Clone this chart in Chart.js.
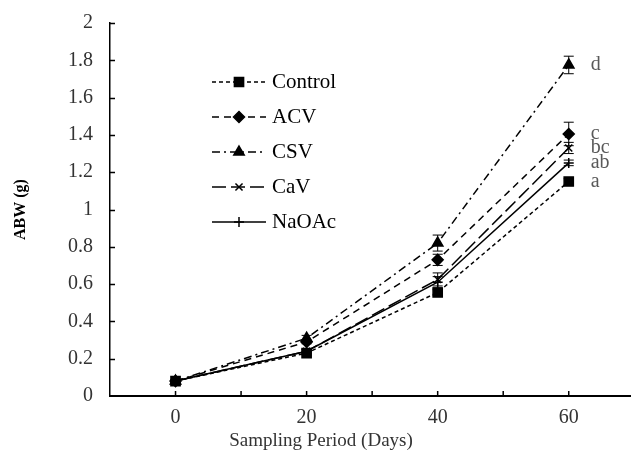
<!DOCTYPE html>
<html><head><meta charset="utf-8">
<script src="https://cdn.jsdelivr.net/npm/chart.js@4.4.1/dist/chart.umd.min.js"></script>
<style>html,body{margin:0;padding:0;background:#fff}</style>
</head><body>
<canvas id="c" width="631" height="455"></canvas>
<script>
// ---- data ----
const days = [0, 20, 40, 60];
const seriesNames = ['Control', 'ACV', 'CSV', 'CaV', 'NaOAc'];
const controlVals = [0.08, 0.23, 0.555, 1.15];
const acvVals     = [0.08, 0.29, 0.73, 1.405];
const csvVals     = [0.08, 0.31, 0.82, 1.775];
const cavVals     = [0.08, 0.24, 0.625, 1.33];
const naoacVals   = [0.08, 0.24, 0.61, 1.25];
const controlErr = [0.005, 0.01, 0.015, 0.015];
const acvErr     = [0.005, 0.01, 0.03, 0.063];
const csvErr     = [0.005, 0.015, 0.043, 0.047];
const cavErr     = [0.005, 0.01, 0.035, 0.03];
const naoacErr   = [0.005, 0.01, 0.03, 0.015];
const letters60  = ['a', 'c', 'd', 'bc', 'ab'];
const xTickLabels = [0, 20, 40, 60];
const yTitle = 'ABW (g)';
const xTitle = 'Sampling Period (Days)';

const FONT = "'Liberation Serif', 'Times New Roman', serif";
const allVals = [controlVals, acvVals, csvVals, cavVals, naoacVals];
const allErr = [controlErr, acvErr, csvErr, cavErr, naoacErr];
const styles = [
  {pointStyle: 'rect', pointRadius: 6.5, borderDash: [4, 3]},
  {pointStyle: 'rectRot', pointRadius: 5.5, borderDash: [7, 5]},
  {pointStyle: 'triangle', pointRadius: 6, borderDash: [8, 4, 2, 4]},
  {pointStyle: 'crossRot', pointRadius: 5, borderDash: [14, 5]},
  {pointStyle: 'cross', pointRadius: 5, borderDash: []}
];

const datasets = seriesNames.map((name, i) => ({
  label: name,
  data: days.map((d, j) => ({x: d, y: allVals[i][j]})),
  errors: allErr[i],
  letter: letters60[i],
  borderColor: '#000',
  backgroundColor: '#000',
  pointBackgroundColor: '#000',
  pointBorderColor: '#000',
  borderWidth: 1.5,
  pointBorderWidth: 1.5,
  tension: 0,
  ...styles[i]
}));

// error bars + letters
const errorBars = {
  id: 'errorBars',
  afterDatasetsDraw(chart) {
    const ctx = chart.ctx, ys = chart.scales.y;
    ctx.save();
    ctx.strokeStyle = '#000';
    ctx.lineWidth = 1;
    ctx.setLineDash([]);
    chart.data.datasets.forEach((ds, i) => {
      const meta = chart.getDatasetMeta(i);
      meta.data.forEach((pt, j) => {
        const v = ds.data[j].y, e = ds.errors[j];
        const y1 = ys.getPixelForValue(v + e), y2 = ys.getPixelForValue(v - e);
        ctx.beginPath();
        ctx.moveTo(pt.x, y1); ctx.lineTo(pt.x, y2);
        ctx.moveTo(pt.x - 5, y1); ctx.lineTo(pt.x + 5, y1);
        ctx.moveTo(pt.x - 5, y2); ctx.lineTo(pt.x + 5, y2);
        ctx.stroke();
      });
      const last = meta.data[meta.data.length - 1];
      ctx.fillStyle = '#595959';
      ctx.font = '20px ' + FONT;
      ctx.textAlign = 'left';
      ctx.textBaseline = 'middle';
      ctx.fillText(ds.letter, last.x + 22, last.y);
    });
    ctx.restore();
  }
};

// inner tick marks
const innerTicks = {
  id: 'innerTicks',
  afterDraw(chart) {
    const ctx = chart.ctx, xs = chart.scales.x, ys = chart.scales.y;
    const a = chart.chartArea;
    ctx.save();
    ctx.strokeStyle = '#000';
    ctx.lineWidth = 1.5;
    ctx.beginPath();
    for (let v = 0; v <= 60; v += 10) {
      const x = xs.getPixelForValue(v);
      ctx.moveTo(x, a.bottom); ctx.lineTo(x, a.bottom - 5);
    }
    for (let k = 1; k <= 10; k++) {
      const y = Math.round(ys.getPixelForValue(k * 0.2)) + 0.5;
      ctx.moveTo(a.left, y); ctx.lineTo(a.left + 5, y);
    }
    ctx.stroke();
    ctx.restore();
  }
};

// legend placed inside plot
const innerLegend = {
  id: 'innerLegend',
  afterDraw(chart, args, opts) {
    const ctx = chart.ctx;
    ctx.save();
    chart.data.datasets.forEach((ds, i) => {
      const y = opts.y0 + i * opts.dy;
      ctx.strokeStyle = '#000';
      ctx.lineWidth = 1.5;
      ctx.setLineDash(ds.borderDash || []);
      ctx.beginPath();
      ctx.moveTo(opts.x0, y); ctx.lineTo(opts.x1, y);
      ctx.stroke();
      ctx.setLineDash([]);
      ctx.fillStyle = '#000';
      Chart.helpers.drawPoint(ctx, {pointStyle: ds.pointStyle, radius: ds.pointRadius, borderWidth: 1.5, rotation: 0}, (opts.x0 + opts.x1) / 2, y);
      ctx.fillStyle = '#000';
      ctx.font = '21px ' + FONT;
      ctx.textAlign = 'left';
      ctx.textBaseline = 'middle';
      ctx.fillText(ds.label, opts.x1 + 6, y);
    });
    ctx.restore();
  }
};

new Chart(document.getElementById('c'), {
  type: 'line',
  data: {datasets},
  plugins: [errorBars, innerTicks, innerLegend],
  options: {
    responsive: false,
    animation: false,
    layout: {autoPadding: false, padding: {left: 11, top: 23, right: 0, bottom: 0}},
    plugins: {
      legend: {display: false},
      tooltip: {enabled: false},
      title: {
        display: true, position: 'bottom', text: xTitle, color: '#333',
        font: {family: FONT, size: 19, weight: 'normal'},
        padding: {top: 0, bottom: 3}
      },
      innerLegend: {x0: 212, x1: 266, y0: 82, dy: 35}
    },
    scales: {
      x: {
        type: 'linear', min: -10, max: 69.5,
        afterFit(s) { s.height = 33.2; s.paddingRight = 0; s.paddingLeft = 0; },
        border: {display: true, color: '#000', width: 2},
        grid: {display: false, drawTicks: false},
        ticks: {
          stepSize: 10, includeBounds: false, autoSkip: false, maxRotation: 0, padding: 10,
          color: '#333', font: {family: FONT, size: 20},
          callback: (v) => xTickLabels.some(t => Math.abs(t - v) < 1e-6) ? String(Math.round(v)) : ''
        }
      },
      y: {
        min: 0, max: 2,
        afterFit(s) { s.width = 99; s.paddingTop = 0; s.paddingBottom = 0; },
        border: {display: true, color: '#000', width: 1.5},
        grid: {display: false, drawTicks: false},
        title: {display: true, text: yTitle, color: '#000', font: {family: FONT, size: 16, weight: 'bold'}, padding: {top: 0, bottom: 0}},
        ticks: {stepSize: 0.2, padding: 17, color: '#333', font: {family: FONT, size: 20},
          callback: (v) => String(+v.toFixed(1))}
      }
    }
  }
});
</script>
</body></html>
